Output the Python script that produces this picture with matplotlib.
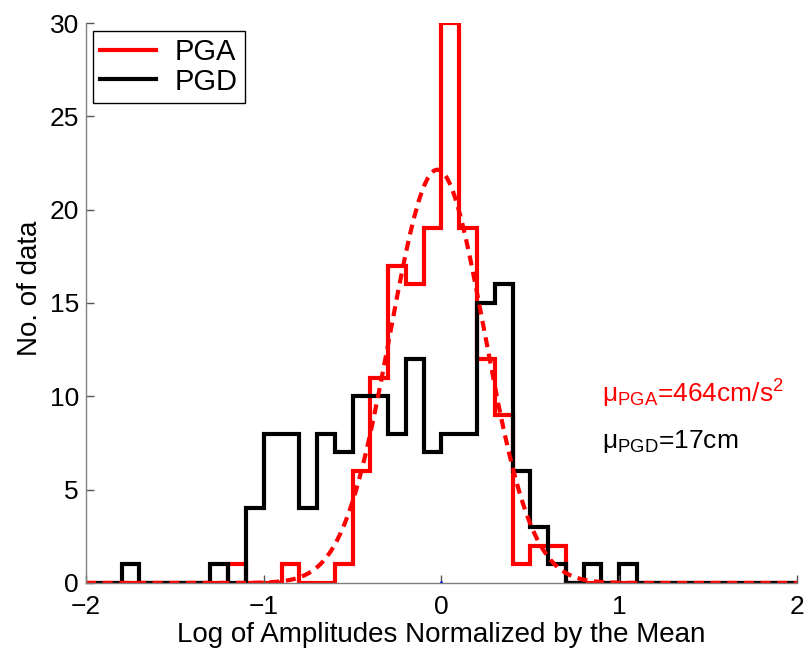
import numpy as np
import matplotlib
matplotlib.use("Agg")
from matplotlib import pyplot as plt
from matplotlib.lines import Line2D

plt.rcParams["font.family"] = ["Liberation Sans", "DejaVu Sans"]
plt.rcParams["mathtext.fontset"] = "custom"
plt.rcParams["mathtext.rm"] = "Liberation Sans"
plt.rcParams["mathtext.it"] = "Liberation Sans:italic"
plt.rcParams["mathtext.default"] = "regular"

# bin edges every 0.1 from -2 to 2 (40 bins)
bin_edges = np.round(np.linspace(-2, 2, 41), 2)

# counts per bin, left to right
pga_counts = [0, 0, 0, 0, 0, 0, 0, 0, 1, 0,
              0, 1, 0, 0, 1, 6, 11, 17, 16, 19,
              30, 19, 12, 9, 1, 2, 2, 0, 0, 0,
              0, 0, 0, 0, 0, 0, 0, 0, 0, 0]
pgd_counts = [0, 0, 1, 0, 0, 0, 0, 1, 0, 4,
              8, 8, 4, 8, 7, 10, 10, 8, 12, 7,
              8, 8, 15, 16, 6, 3, 1, 0, 1, 0,
              1, 0, 0, 0, 0, 0, 0, 0, 0, 0]

labels = ["PGA", "PGD"]
mean_texts = [r"$\mu_{PGA}$=464cm/s$^2$", r"$\mu_{PGD}$=17cm"]

# normal fit to the PGA histogram
centers = (bin_edges[:-1] + bin_edges[1:]) / 2
counts = np.array(pga_counts, dtype=float)
n_total = counts.sum()
mu = (centers * counts).sum() / n_total
sigma = np.sqrt((counts * (centers - mu) ** 2).sum() / n_total)
xfit = np.linspace(-2, 2, 400)
yfit = n_total * 0.1 / (sigma * np.sqrt(2 * np.pi)) * np.exp(-0.5 * ((xfit - mu) / sigma) ** 2)

fig = plt.figure(figsize=(8.08, 6.5), dpi=100)
ax = fig.add_axes([0.1064, 0.1031, 0.88, 0.8615])

ax.stairs(pga_counts, bin_edges, color="red", lw=3, label=labels[0])
ax.stairs(pgd_counts, bin_edges, color="black", lw=3, label=labels[1])
ax.plot(xfit, yfit, color="red", lw=3, dashes=(2.4, 1.6))
ax.plot(0, 0, marker="^", color="blue", ms=3)

ax.set_xlim(-2, 2)
ax.set_ylim(0, 30)
ax.set_xticks([-2, -1, 0, 1, 2])
ax.set_yticks([0, 5, 10, 15, 20, 25, 30])
ax.tick_params(direction="in", length=6, width=1, labelsize=19, color="#555555")
ax.tick_params(axis="x", pad=9)
ax.tick_params(axis="y", pad=5)
for side in ["top", "right"]:
    ax.spines[side].set_visible(False)
for side in ["left", "bottom"]:
    ax.spines[side].set_color("#808080")
    ax.spines[side].set_linewidth(1)

ax.set_xlabel("Log of Amplitudes Normalized by the Mean", fontsize=20)
ax.set_ylabel("No. of data", fontsize=20)
ax.xaxis.set_label_coords(0.5, -0.07)
ax.yaxis.set_label_coords(-0.06, 0.527)

ax.text(0.905, 9.66, mean_texts[0], color="red", fontsize=19, ha="left", va="baseline")
ax.text(0.905, 7.25, mean_texts[1], color="black", fontsize=19, ha="left", va="baseline")

handles = [Line2D([], [], color="red", lw=3), Line2D([], [], color="black", lw=3)]
leg = ax.legend(handles, labels, loc="upper left", bbox_to_anchor=(0.01, 0.986),
                fontsize=21, frameon=True, fancybox=False, framealpha=1,
                handlelength=1.9, handletextpad=0.65, borderpad=0.25, labelspacing=0.05,
                borderaxespad=0)
leg.get_frame().set_edgecolor("black")
leg.get_frame().set_linewidth(1)

fig.savefig("out.png", dpi=100)
